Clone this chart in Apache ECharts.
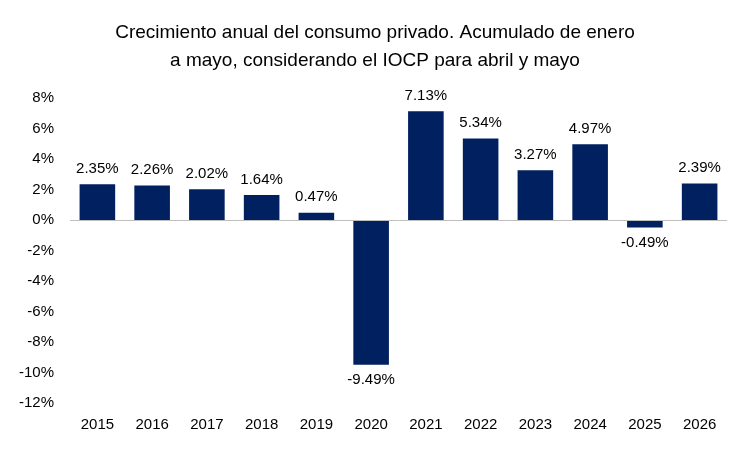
<!DOCTYPE html>
<html>
<head>
<meta charset="utf-8">
<script src="https://cdn.jsdelivr.net/npm/echarts@6/dist/echarts.min.js"></script>
<style>html,body{margin:0;padding:0;background:#fff}#chart{width:750px;height:450px}</style>
</head>
<body>
<div id="chart"></div>
<script>
var years = ['2015', '2016', '2017', '2018', '2019', '2020', '2021', '2022', '2023', '2024', '2025', '2026'];
var growth = [2.35, 2.26, 2.02, 1.64, 0.47, -9.49, 7.13, 5.34, 3.27, 4.97, -0.49, 2.39];
var yTicks = [-12, 8, 2];

var font = 'Liberation Sans';
var chart = echarts.init(document.getElementById('chart'));

var option = {
    animation: false,
    title: {
        text: 'Crecimiento anual del consumo privado. Acumulado de enero\na mayo, considerando el IOCP para abril y mayo',
        left: 'center',
        top: 14,
        textStyle: { fontFamily: font, fontSize: 19, fontWeight: 'normal', color: '#000', lineHeight: 28 }
    },
    grid: { left: 70, right: 23, top: 98, bottom: 47 },
    xAxis: {
        type: 'category',
        data: years,
        axisLine: { show: false },
        axisTick: { show: false },
        axisLabel: { fontFamily: font, fontSize: 15, color: '#000', margin: 14 }
    },
    yAxis: {
        type: 'value',
        min: yTicks[0],
        max: yTicks[1],
        interval: yTicks[2],
        splitLine: { show: false },
        axisLine: { show: false },
        axisTick: { show: false },
        axisLabel: { fontFamily: font, fontSize: 15, color: '#000', margin: 16, formatter: '{value}%' }
    },
    series: [{
        type: 'bar',
        barWidth: '65%',
        itemStyle: { color: '#002060' },
        data: growth.map(function (v) {
            return { value: v, label: { position: v < 0 ? 'bottom' : 'top' } };
        }),
        label: {
            show: true,
            fontFamily: font,
            fontSize: 15,
            color: '#000',
            distance: 8,
            formatter: function (p) { return p.value.toFixed(2) + '%'; }
        },
        markLine: {
            silent: true,
            symbol: 'none',
            label: { show: false },
            lineStyle: { color: '#bfbfbf', type: 'solid', width: 1 },
            data: [{ yAxis: 0 }]
        }
    }]
};

chart.setOption(option);
</script>
</body>
</html>
